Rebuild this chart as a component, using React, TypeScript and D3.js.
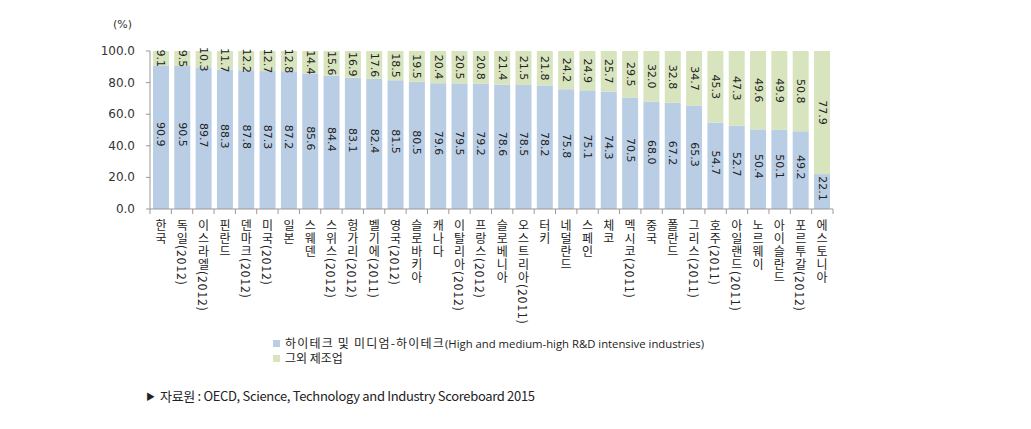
import React from "react";
import * as d3 from "d3";

const categories = ["한국","독일(2012)","이스라엘(2012)","핀란드","덴마크(2012)","미국(2012)","일본","스웨덴","스위스(2012)","헝가리(2012)","벨기에(2011)","영국(2012)","슬로바키아","캐나다","이탈리아(2012)","프랑스(2012)","슬로베니아","오스트리아(2011)","터키","네덜란드","스페인","체코","멕시코(2011)","중국","폴란드","그리스(2011)","호주(2011)","아일랜드(2011)","노르웨이","아이슬란드","포르투갈(2012)","에스토니아"];
const highTech = [90.9,90.5,89.7,88.3,87.8,87.3,87.2,85.6,84.4,83.1,82.4,81.5,80.5,79.6,79.5,79.2,78.6,78.5,78.2,75.8,75.1,74.3,70.5,68.0,67.2,65.3,54.7,52.7,50.4,50.1,49.2,22.1];
const otherMfg = [9.1,9.5,10.3,11.7,12.2,12.7,12.8,14.4,15.6,16.9,17.6,18.5,19.5,20.4,20.5,20.8,21.4,21.5,21.8,24.2,24.9,25.7,29.5,32.0,32.8,34.7,45.3,47.3,49.6,49.9,50.8,77.9];
const yTicks = [0, 20, 40, 60, 80, 100];
const legendLabels = ["하이테크 및 미디엄-하이테크", "그외 제조업"];

const W = 1031, H = 429;
const left = 150, right = 833, top = 51, bottom = 209;
const BLUE = "#b9cde5", GREEN = "#d7e4bd";
const KFONT = "'Noto Sans CJK KR', 'Noto Sans', sans-serif";
const NFONT = "'DejaVu Sans', 'Liberation Sans', sans-serif";

export default function App() {
  const x = d3.scaleBand<string>().domain(categories).range([left, right]).paddingInner(0.25).paddingOuter(0.14);
  const y = d3.scaleLinear().domain([0, 100]).range([bottom, top]);
  const step = (right - left) / categories.length;
  const bw = x.bandwidth();
  return (
    <svg width={W} height={H} style={{ position: "absolute", left: 0, top: 0, background: "#fff" }}>
      <text x={113} y={28} fontFamily={NFONT} fontSize={11} fill="#333">(%)</text>
      {yTicks.map((t) => (
        <g key={t}>
          <text x={135} y={y(t) + 4} textAnchor="end" fontFamily={NFONT} fontSize={12} fill="#333">{t.toFixed(1)}</text>
          <line x1={146} x2={150} y1={y(t)} y2={y(t)} stroke="#999" />
        </g>
      ))}
      <line x1={150} x2={150} y1={top} y2={bottom} stroke="#999" />
      {categories.map((c, i) => {
        const bx = x(c)!;
        const cx = bx + bw / 2;
        const yb = y(highTech[i]);
        const yg = y(highTech[i] + otherMfg[i]);
        return (
          <g key={c}>
            <rect x={bx} y={yb} width={bw} height={bottom - yb} fill={BLUE} />
            <rect x={bx} y={Math.max(top, yg)} width={bw} height={yb - Math.max(top, yg)} fill={GREEN} />
            <text transform={`translate(${cx},${(yb + bottom) / 2 - 3}) rotate(90)`} textAnchor="middle" dominantBaseline="central" fontFamily={NFONT} fontSize={11} fill="#222">{highTech[i].toFixed(1)}</text>
            <text transform={`translate(${cx},${(yb + top) / 2}) rotate(90)`} textAnchor="middle" dominantBaseline="central" fontFamily={NFONT} fontSize={11} fill="#222">{otherMfg[i].toFixed(1)}</text>
            <text x={cx} y={219} style={{ writingMode: "vertical-rl" } as any} fontFamily={KFONT} fontSize={12} fill="#222" letterSpacing={1}>{c}</text>
          </g>
        );
      })}
      <line x1={left} x2={right} y1={bottom} y2={bottom} stroke="#999" />
      {d3.range(categories.length + 1).map((i) => (
        <line key={i} x1={left + i * step} x2={left + i * step} y1={bottom} y2={bottom + 5} stroke="#999" />
      ))}
      <rect x={273} y={340} width={7} height={7} fill={BLUE} />
      <text x={285} y={348} fill="#222">
        <tspan fontFamily={KFONT} fontSize={12} letterSpacing={1.2}>{legendLabels[0]}</tspan>
        <tspan fontFamily="'Open Sans', sans-serif" fontSize={11.3} letterSpacing={0}>(High and medium-high  R&amp;D intensive industries)</tspan>
      </text>
      <rect x={273} y={355} width={7} height={7} fill={GREEN} />
      <text x={285} y={363} fontFamily={KFONT} fontSize={12} fill="#222">{legendLabels[1]}</text>
      <text x={146} y={400} fontFamily={KFONT} fontSize={9} fill="#222">▶</text>
      <text x={160} y={401} fontFamily={KFONT} fontSize={13} fill="#222" textLength={375} lengthAdjust="spacing">자료원 : OECD, Science, Technology and Industry Scoreboard 2015</text>
    </svg>
  );
}
